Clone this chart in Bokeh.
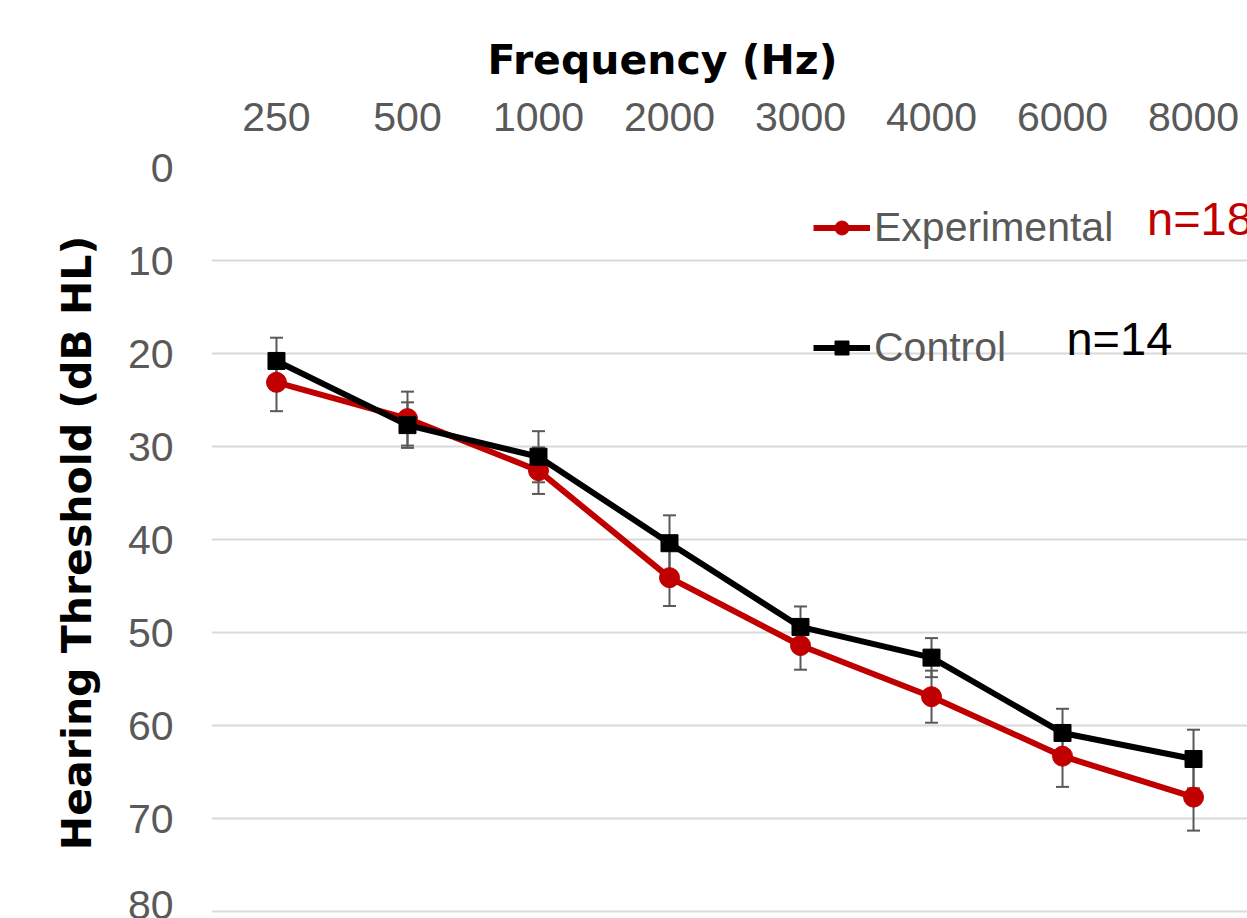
from bokeh.plotting import figure
from bokeh.models import (Range1d, FixedTicker, Whisker, TeeHead, ColumnDataSource,
                          Legend, LegendItem, Label)
from bokeh.embed import file_html
from bokeh.resources import INLINE

# ---- data ----
frequencies = ["250", "500", "1000", "2000", "3000", "4000", "6000", "8000"]
experimental = [23.1, 27.0, 32.6, 44.1, 51.4, 56.9, 63.3, 67.7]
experimental_err = [3.1, 2.9, 2.5, 3.05, 2.6, 2.8, 3.3, 3.6]
control = [20.8, 27.7, 31.1, 40.4, 49.4, 52.7, 60.8, 63.6]
control_err = [2.5, 2.45, 2.75, 3.0, 2.2, 2.1, 2.6, 3.15]
y_ticks = [0, 10, 20, 30, 40, 50, 60, 70, 80]

RED = "#c00000"
BLACK = "#000000"
GREY = "#595959"

idx = list(range(len(frequencies)))

exp_src = ColumnDataSource(dict(
    x=idx, y=experimental,
    lo=[v - e for v, e in zip(experimental, experimental_err)],
    hi=[v + e for v, e in zip(experimental, experimental_err)]))
ctl_src = ColumnDataSource(dict(
    x=idx, y=control,
    lo=[v - e for v, e in zip(control, control_err)],
    hi=[v + e for v, e in zip(control, control_err)]))

p = figure(width=1247, height=918, output_backend="svg", toolbar_location=None,
           x_range=Range1d(-0.496, 7.412), y_range=Range1d(80.75, 0),
           x_axis_location="above", y_axis_location="left",
           min_border_left=211, min_border_top=167, min_border_right=0,
           min_border_bottom=0)
p.outline_line_color = None
p.background_fill_color = "white"
p.border_fill_color = "white"

# title (x-axis title)
p.title.text = "Frequency (Hz)"
p.title.text_font = "DejaVu Sans"
p.title.text_font_style = "bold"
p.title.text_font_size = "41px"
p.title.text_color = "black"
p.title.align = "left"
p.title.offset = 276
p.title.standoff = 31

# x axis
xa = p.xaxis[0]
xa.ticker = FixedTicker(ticks=idx)
xa.major_label_overrides = {i: f for i, f in zip(idx, frequencies)}
xa.major_label_text_font = "Liberation Sans"
xa.major_label_text_font_size = "41px"
xa.major_label_text_color = GREY
xa.axis_line_color = None
xa.major_tick_line_color = None
xa.minor_tick_line_color = None
xa.major_label_standoff = 31

# y axis
ya = p.yaxis[0]
ya.ticker = FixedTicker(ticks=y_ticks)
ya.major_label_text_font = "Liberation Sans"
ya.major_label_text_font_size = "41px"
ya.major_label_text_color = GREY
ya.axis_line_color = None
ya.major_tick_line_color = None
ya.minor_tick_line_color = None
ya.major_label_standoff = 32
ya.axis_label = "Hearing Threshold (dB HL)"
ya.axis_label_text_font = "DejaVu Sans"
ya.axis_label_text_font_style = "bold"
ya.axis_label_text_font_size = "41px"
ya.axis_label_text_color = "black"
ya.axis_label_standoff = 24

p.xgrid.grid_line_color = None
p.ygrid.grid_line_color = "#d9d9d9"
p.ygrid.grid_line_width = 2

# error bars
for src in (exp_src, ctl_src):
    w = Whisker(source=src, base="x", upper="hi", lower="lo",
                line_color=GREY, line_width=2,
                upper_head=TeeHead(size=13, line_color=GREY, line_width=2),
                lower_head=TeeHead(size=13, line_color=GREY, line_width=2))
    p.add_layout(w)

# series
r_exp_line = p.line("x", "y", source=exp_src, line_color=RED, line_width=6)
r_exp_pts = p.scatter("x", "y", source=exp_src, marker="circle", size=20,
                      fill_color=RED, line_color=RED)
r_ctl_line = p.line("x", "y", source=ctl_src, line_color=BLACK, line_width=6)
r_ctl_pts = p.scatter("x", "y", source=ctl_src, marker="square", size=17,
                      fill_color=BLACK, line_color=BLACK)

def make_legend(label, renderers, loc):
    lg = Legend(items=[LegendItem(label=label, renderers=renderers)],
                location=loc, glyph_width=57, glyph_height=35,
                label_text_font="Liberation Sans", label_text_font_size="41px",
                label_text_color=GREY, label_standoff=4, padding=0, margin=0,
                border_line_color=None, background_fill_alpha=0, spacing=0)
    p.add_layout(lg, "center")

make_legend("Experimental", [r_exp_line, r_exp_pts], (602, 667))
make_legend("Control", [r_ctl_line, r_ctl_pts], (602, 547))

# sample sizes
p.add_layout(Label(x=6.645, y=5.5, text="n=18", text_color=RED,
                   text_font="Liberation Sans", text_font_size="47px",
                   text_baseline="middle", text_align="left"))
p.add_layout(Label(x=6.03, y=18.4, text="n=14", text_color=BLACK,
                   text_font="Liberation Sans", text_font_size="47px",
                   text_baseline="middle", text_align="left"))

open("out.html", "w").write(file_html(p, INLINE))
